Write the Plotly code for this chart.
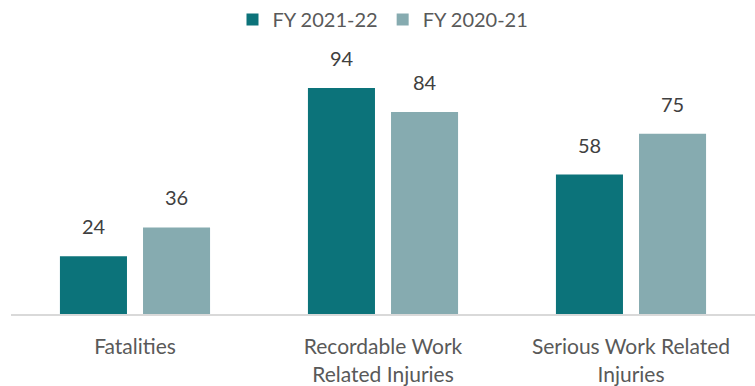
import plotly.graph_objects as go

categories = ["Fatalities", "Recordable Work<br>Related Injuries", "Serious Work Related<br>Injuries"]
series_names = ["FY 2021-22", "FY 2020-21"]
fy_2021_22 = [24, 94, 58]
fy_2020_21 = [36, 84, 75]
series_values = [fy_2021_22, fy_2020_21]
colors = ["#0C737A", "#86ABB0"]

FONT = "Lato, 'Open Sans', sans-serif"

fig = go.Figure()
for name, vals, col in zip(series_names, series_values, colors):
    fig.add_trace(go.Bar(x=categories, y=vals, name=name, marker=dict(color=col, line=dict(width=0)),
                         hoverinfo="skip"))

# value labels above bars
shifts = [-41.5, 41.5]
for vals, xs in zip(series_values, shifts):
    for c, v in zip(categories, vals):
        fig.add_annotation(x=c, y=v, xref="x", yref="y", text=str(v), showarrow=False,
                           xshift=xs, yanchor="bottom", yshift=16,
                           font=dict(family=FONT, size=20, color="#404040"))

fig.update_layout(
    width=755, height=386,
    margin=dict(l=11, r=0, t=40, b=72),
    paper_bgcolor="white", plot_bgcolor="white",
    barmode="group", bargap=0.33, bargroupgap=0.193,
    font=dict(family=FONT, size=20, color="#595959"),
    showlegend=True,
    legend=dict(orientation="h", x=0.5, xanchor="center", y=1.0, yref="container", yanchor="top",
                font=dict(family=FONT, size=20, color="#595959"), traceorder="normal",
                itemwidth=30),
    xaxis=dict(showline=True, linecolor="#D9D9D9", linewidth=2, showgrid=False, zeroline=False,
               ticks="outside", ticklen=13, tickcolor="rgba(0,0,0,0)",
               tickfont=dict(family=FONT, size=21, color="#595959")),
    yaxis=dict(range=[0, 114], visible=False, showgrid=False, zeroline=False),
)

fig.write_html("out.html")
